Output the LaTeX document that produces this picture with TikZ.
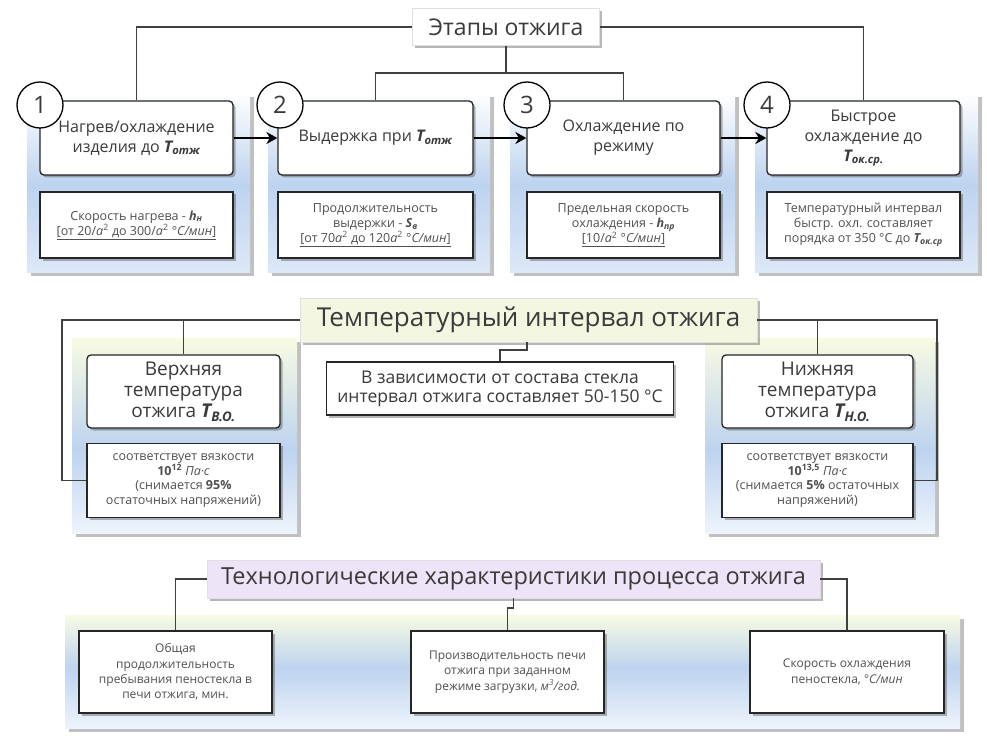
\documentclass[tikz,border=0pt]{standalone}
\usepackage{fontspec}
\setmainfont{Open Sans}
\usetikzlibrary{shadows,arrows.meta}

\definecolor{txt}{HTML}{3A3A3A}
\definecolor{subtxt}{HTML}{505050}
\definecolor{linkc}{HTML}{404040}
\definecolor{pblue}{HTML}{BDD3EF}
\definecolor{plight}{HTML}{DCE8F8}
\definecolor{pfaint}{HTML}{EEF4FC}
\definecolor{pyellow}{HTML}{F8FBE3}
\definecolor{tgreen}{HTML}{F3F7E1}
\definecolor{tlilac}{HTML}{EEE4F7}

% bold italic temperature symbols with subscripts
\newcommand\Tsub[1]{{\bfseries\itshape T}\textsubscript{\bfseries\itshape #1}}
\newcommand\hsub[1]{{\bfseries\itshape h}\textsubscript{\bfseries\itshape #1}}
\newcommand\Ssub[1]{{\bfseries\itshape S}\textsubscript{\bfseries\itshape #1}}
\newcommand\asq{\textit{a}\textsuperscript{2}}

\tikzset{
  panel/.style={fill=white, drop shadow={shadow xshift=4pt, shadow yshift=-4pt, opacity=0.35, fill=black!70}},
  mainbox/.style={draw=black!85, line width=1.3pt, rounded corners=4pt, fill=white, text=txt,
    align=center, inner sep=2pt,
    drop shadow={shadow xshift=2.5pt, shadow yshift=-2.5pt, opacity=0.35, fill=black!80}},
  subbox/.style={draw=black!85, line width=1.3pt, fill=white, text=subtxt, align=center, inner sep=2pt,
    drop shadow={shadow xshift=2.5pt, shadow yshift=-2.5pt, opacity=0.35, fill=black!80}},
  numcirc/.style={circle, draw=black, line width=1.3pt, fill=white, minimum size=46pt, inner sep=0pt,
    text=txt, font=\fontsize{24}{26}\selectfont},
  title/.style={draw=black!12, line width=0.5pt, text=txt, inner xsep=6pt, inner ysep=4pt,
    drop shadow={shadow xshift=2.5pt, shadow yshift=-2.5pt, opacity=0.35, fill=black!80}},
  flow/.style={line width=2.4pt, black, -{Stealth[length=11pt,width=12pt]}},
  link/.style={draw=linkc, line width=1.2pt},
  mainfont/.style={font=\fontsize{16}{20}\selectfont},
  subfont/.style={font=\fontsize{12.5}{15}\selectfont},
}

\begin{document}
\begin{tikzpicture}[x=1pt,y=-1pt]
\useasboundingbox (0,0) rectangle (987,751);
\fill[white] (0,0) rectangle (987,751);

% ---------- background panels: stages ----------
\foreach \xa/\xb in {27/250, 268/490, 510/735, 755/978} {
  \path[panel] (\xa,93) rectangle (\xb,272);
  \shade[top color=white, bottom color=pblue] (\xa,93) rectangle (\xb,185);
  \shade[top color=pblue, bottom color=plight] (\xa,185) rectangle (\xb,272);
}

% ---------- background panels: temperature interval ----------
\foreach \xa/\xb in {72/297, 705/935} {
  \path[panel] (\xa,338) rectangle (\xb,533);
  \shade[top color=pyellow, bottom color=pblue] (\xa,338) rectangle (\xb,450);
  \shade[top color=pblue, bottom color=pfaint] (\xa,450) rectangle (\xb,533);
}

% ---------- background panel: process characteristics ----------
\path[panel] (65,615) rectangle (960,728);
\shade[top color=pyellow, bottom color=pblue] (65,615) rectangle (960,668);
\shade[top color=pblue, bottom color=pfaint] (65,668) rectangle (960,728);

% ---------- stages ----------
\node[title, fill=white, font=\fontsize{23}{26}\selectfont, minimum width=187pt, minimum height=37pt]
  (t1) at (506,27) {Этапы отжига};

\node[mainbox, mainfont, minimum width=193pt, minimum height=74pt] (b1) at (136.5,138)
  {Нагрев/охлаждение\\изделия до \Tsub{отж}};
\node[mainbox, mainfont, minimum width=195pt, minimum height=74pt] (b2) at (375.5,138)
  {Выдержка при \Tsub{отж}};
\node[mainbox, mainfont, minimum width=193pt, minimum height=74pt] (b3) at (623.5,138)
  {Охлаждение по\\режиму};
\node[mainbox, mainfont, minimum width=193pt, minimum height=74pt] (b4) at (863.5,138)
  {Быстрое\\охлаждение до\\\Tsub{ок.ср.}};

\node[subbox, subfont, minimum width=193pt, minimum height=66pt] (s1) at (136.5,225)
  {Скорость нагрева - \hsub{н}\\\underline{[от 20/\asq{} до 300/\asq{} °\textit{C/мин}]}};
\node[subbox, subfont, minimum width=195pt, minimum height=66pt] (s2) at (375.5,225)
  {Продолжительность\\выдержки - \Ssub{в}\\\underline{[от 70\asq{} до 120\asq{} °\textit{C/мин}]}};
\node[subbox, subfont, minimum width=193pt, minimum height=66pt] (s3) at (623.5,225)
  {Предельная скорость\\охлаждения - \hsub{пр}\\\underline{[10/\asq{} °\textit{C/мин}]}};
\node[subbox, subfont, minimum width=193pt, minimum height=66pt] (s4) at (863.5,225)
  {Температурный интервал\\быстр. охл. составляет\\порядка от 350 °C до \Tsub{ок.ср}};

\node[numcirc] (n1) at (40,105) {1};
\node[numcirc] (n2) at (280,105) {2};
\node[numcirc] (n3) at (527,105) {3};
\node[numcirc] (n4) at (767,105) {4};

\coordinate (j1) at (506,73);
\path[link] (t1.west) -| (b1.north);
\path[link] (t1.east) -| (b4.north);
\path[link] (t1.south) -- (j1);
\path[link] (b2.north) |- (j1) -| (b3.north);

\draw[flow] (b1.east) -- (b2.west);
\draw[flow] (b2.east) -- (b3.west);
\draw[flow] (b3.east) -- (b4.west);

% ---------- annealing temperature interval ----------
\node[title, fill=tgreen, font=\fontsize{26}{30}\selectfont, minimum width=457pt, minimum height=44pt]
  (t2) at (528.5,320) {Температурный интервал отжига};

\node[mainbox, font=\fontsize{19}{21}\selectfont, minimum width=193pt, minimum height=73pt]
  (u1) at (183.5,391.5) {Верхняя\\температура\\отжига \Tsub{В.О.}};
\node[subbox, font=\fontsize{12.5}{14.5}\selectfont, minimum width=193pt, minimum height=74pt]
  (v1) at (183.5,480.5)
  {соответствует вязкости\\{\bfseries 10\textsuperscript{12}} \textit{Па·с}\\(снимается {\bfseries 95\%}\\остаточных напряжений)};

\node[mainbox, font=\fontsize{19}{21}\selectfont, minimum width=191pt, minimum height=73pt]
  (u2) at (817.5,391.5) {Нижняя\\температура\\отжига \Tsub{Н.О.}};
\node[subbox, font=\fontsize{12.5}{14.5}\selectfont, minimum width=191pt, minimum height=74pt]
  (v2) at (817.5,480.5)
  {соответствует вязкости\\{\bfseries 10\textsuperscript{13,5}} \textit{Па·с}\\(снимается {\bfseries 5\%} остаточных\\напряжений)};

\node[subbox, text=txt, font=\fontsize{17.5}{19}\selectfont, minimum width=347pt, minimum height=53pt]
  (c1) at (500,388.5) {В зависимости от состава стекла\\интервал отжига составляет 50-150 °C};

\coordinate (k1) at (62,320);
\coordinate (k2) at (937,320);
\coordinate (k3) at (527,350);
\path[link] (t2.west) -- (k1) |- (v1.west);
\path[link] (183.5,320) -- (u1.north);
\path[link] (t2.east) -- (k2) |- (v2.east);
\path[link] (817.5,320) -- (u2.north);
\path[link] (t2.south -| k3) -- (k3) -| (c1.north);

% ---------- process characteristics ----------
\node[title, fill=tlilac, font=\fontsize{23.5}{27}\selectfont, minimum width=613pt, minimum height=38pt]
  (t3) at (513.5,579) {Технологические характеристики процесса отжига};

\node[subbox, font=\fontsize{12}{15.3}\selectfont, minimum width=193pt, minimum height=82pt]
  (p1) at (175.5,672) {Общая\\продолжительность\\пребывания пеностекла в\\печи отжига, мин.};
\node[subbox, font=\fontsize{12}{15.3}\selectfont, minimum width=193pt, minimum height=82pt]
  (p2) at (507.5,672) {Производительность печи\\отжига при заданном\\режиме загрузки, \textit{м\textsuperscript{3}/год.}};
\node[subbox, font=\fontsize{12}{15.3}\selectfont, minimum width=194pt, minimum height=82pt]
  (p3) at (847,672) {Скорость охлаждения\\пеностекла, °\textit{C/мин}};

\coordinate (m1) at (513.5,608);
\path[link] (t3.west) -| (p1.north);
\path[link] (t3.east) -| (p3.north);
\path[link] (t3.south) -- (m1) -| (p2.north);

\end{tikzpicture}
\end{document}
